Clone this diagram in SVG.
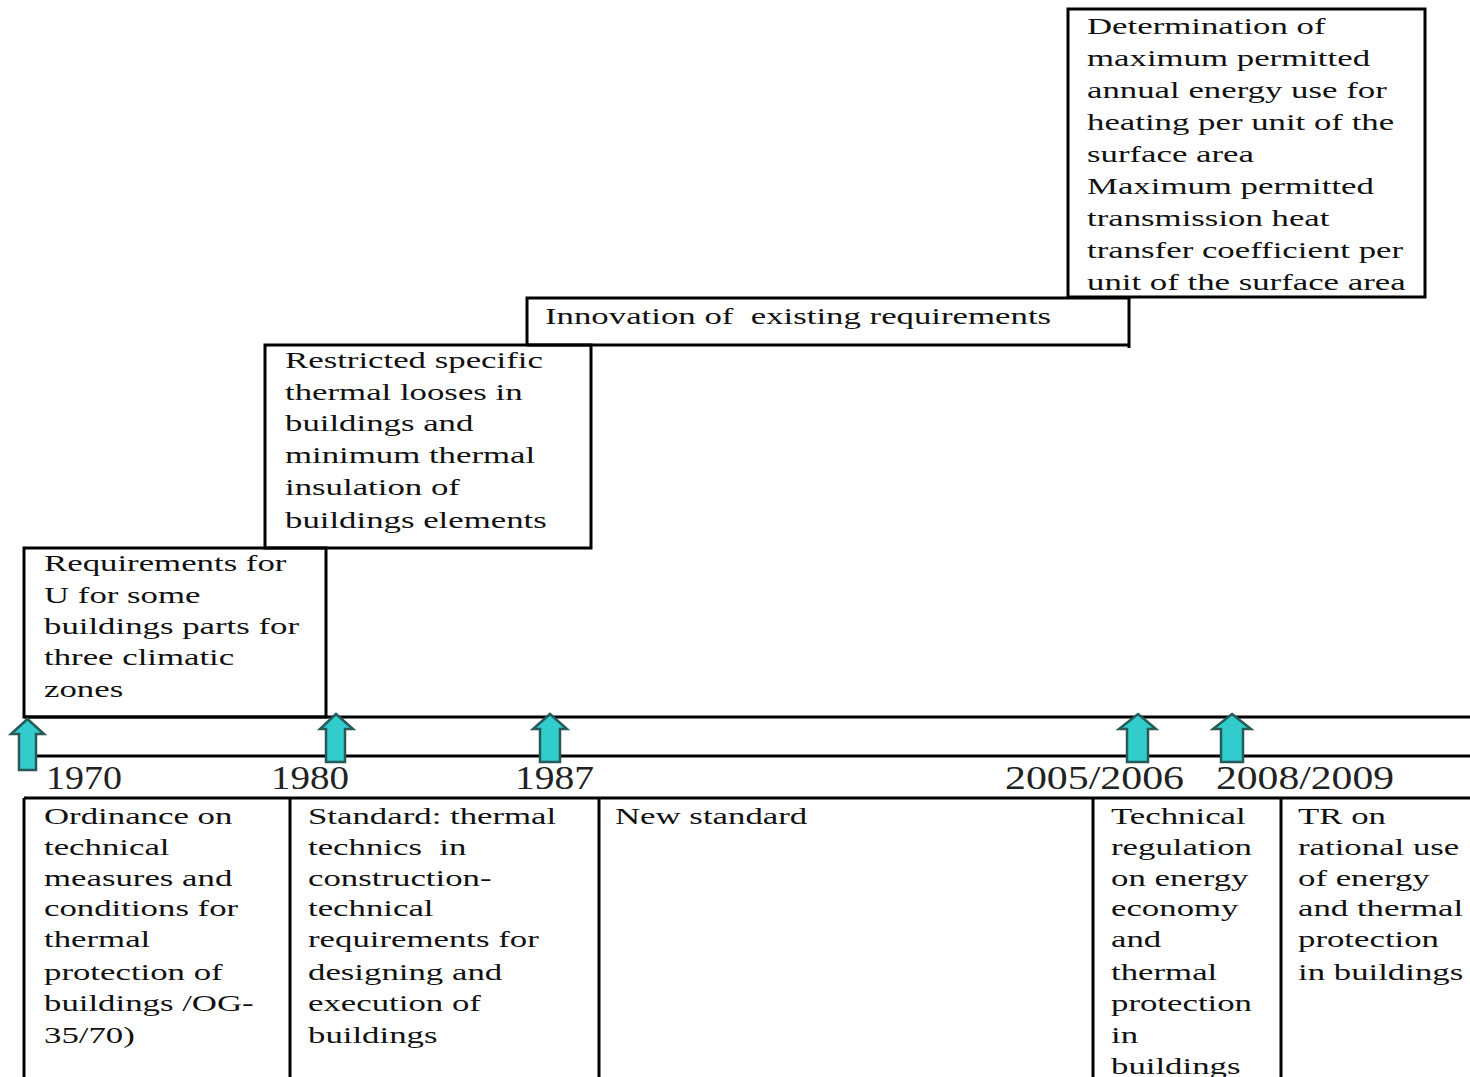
<svg xmlns="http://www.w3.org/2000/svg" width="1470" height="1077" viewBox="0 0 1470 1077">
<style>
.box{fill:none;stroke:#000;stroke-width:3}
.ln{stroke:#000;stroke-width:3;fill:none}
.t{font-family:"Liberation Serif","Times New Roman",serif;font-size:24px;fill:#111;white-space:pre}
.yr{font-family:"Liberation Serif","Times New Roman",serif;font-size:34px;fill:#222}
.arr{fill:#33cccc;stroke:#285a5a;stroke-width:2.5;stroke-linejoin:miter}
</style>
<defs>
<clipPath id="cDet"><rect x="1068" y="9" width="357" height="288"/></clipPath>
</defs>
<rect width="1470" height="1077" fill="#fff"/>

<g id="node-determination">
<rect class="box" x="1068" y="9" width="357" height="288"/>
<g clip-path="url(#cDet)">
<text class="t" transform="translate(1087,0) scale(1.45,1)">
<tspan x="0" y="34">Determination of</tspan>
<tspan x="0" y="66">maximum permitted</tspan>
<tspan x="0" y="98">annual energy use for</tspan>
<tspan x="0" y="130">heating per unit of the</tspan>
<tspan x="0" y="162">surface area</tspan>
<tspan x="0" y="194">Maximum permitted</tspan>
<tspan x="0" y="226">transmission heat</tspan>
<tspan x="0" y="258">transfer coefficient per</tspan>
<tspan x="0" y="290">unit of the surface area</tspan>
</text>
</g>
</g>

<g id="node-innovation">
<polyline class="ln" points="527,345 527,298 1129,298 1129,348"/>
<line class="ln" x1="527" y1="345" x2="1129" y2="345"/>
<text class="t" transform="translate(545,0) scale(1.45,1)"><tspan x="0" y="324">Innovation of  existing requirements</tspan></text>
</g>

<g id="node-restricted">
<rect class="box" x="265" y="345" width="326" height="203"/>
<text class="t" transform="translate(285,0) scale(1.45,1)">
<tspan x="0" y="368">Restricted specific</tspan>
<tspan x="0" y="400">thermal looses in</tspan>
<tspan x="0" y="431">buildings and</tspan>
<tspan x="0" y="463">minimum thermal</tspan>
<tspan x="0" y="495">insulation of</tspan>
<tspan x="0" y="528">buildings elements</tspan>
</text>
</g>

<g id="node-requirements">
<rect class="box" x="24" y="548" width="302" height="169"/>
<text class="t" transform="translate(44,0) scale(1.45,1)">
<tspan x="0" y="571">Requirements for</tspan>
<tspan x="0" y="603">U for some</tspan>
<tspan x="0" y="634">buildings parts for</tspan>
<tspan x="0" y="665">three climatic</tspan>
<tspan x="0" y="697">zones</tspan>
</text>
</g>

<g id="timeline">
<line class="ln" x1="24" y1="717" x2="1470" y2="717"/>
<line class="ln" x1="37" y1="756" x2="1470" y2="756"/>
<text class="yr" x="46" y="789" textLength="76" lengthAdjust="spacingAndGlyphs">1970</text>
<text class="yr" x="271" y="789" textLength="78" lengthAdjust="spacingAndGlyphs">1980</text>
<text class="yr" x="515" y="789" textLength="79" lengthAdjust="spacingAndGlyphs">1987</text>
<text class="yr" x="1005" y="789" textLength="179" lengthAdjust="spacingAndGlyphs">2005/2006</text>
<text class="yr" x="1216" y="789" textLength="178" lengthAdjust="spacingAndGlyphs">2008/2009</text>
</g>

<g id="bottom-row">
<line class="ln" x1="24" y1="798" x2="1470" y2="798"/>
<line class="ln" x1="24" y1="798" x2="24" y2="1077"/>
<line class="ln" x1="290" y1="798" x2="290" y2="1077"/>
<line class="ln" x1="599" y1="798" x2="599" y2="1077"/>
<line class="ln" x1="1093" y1="798" x2="1093" y2="1077"/>
<line class="ln" x1="1281" y1="798" x2="1281" y2="1077"/>
</g>

<g id="node-ordinance">
<text class="t" transform="translate(44,0) scale(1.45,1)">
<tspan x="0" y="824">Ordinance on</tspan>
<tspan x="0" y="855">technical</tspan>
<tspan x="0" y="886">measures and</tspan>
<tspan x="0" y="916">conditions for</tspan>
<tspan x="0" y="947">thermal</tspan>
<tspan x="0" y="980">protection of</tspan>
<tspan x="0" y="1011">buildings /OG-</tspan>
<tspan x="0" y="1043">35/70)</tspan>
</text>
</g>

<g id="node-standard">
<text class="t" transform="translate(308,0) scale(1.45,1)">
<tspan x="0" y="824">Standard: thermal</tspan>
<tspan x="0" y="855">technics  in</tspan>
<tspan x="0" y="886">construction-</tspan>
<tspan x="0" y="916">technical</tspan>
<tspan x="0" y="947">requirements for</tspan>
<tspan x="0" y="980">designing and</tspan>
<tspan x="0" y="1011">execution of</tspan>
<tspan x="0" y="1043">buildings</tspan>
</text>
</g>

<g id="node-new-standard">
<text class="t" transform="translate(615,0) scale(1.45,1)"><tspan x="0" y="824">New standard</tspan></text>
</g>

<g id="node-technical-regulation">
<text class="t" transform="translate(1111,0) scale(1.45,1)">
<tspan x="0" y="824">Technical</tspan>
<tspan x="0" y="855">regulation</tspan>
<tspan x="0" y="886">on energy</tspan>
<tspan x="0" y="916">economy</tspan>
<tspan x="0" y="947">and</tspan>
<tspan x="0" y="980">thermal</tspan>
<tspan x="0" y="1011">protection</tspan>
<tspan x="0" y="1043">in</tspan>
<tspan x="0" y="1074">buildings</tspan>
</text>
</g>

<g id="node-tr">
<text class="t" transform="translate(1298,0) scale(1.45,1)">
<tspan x="0" y="824">TR on</tspan>
<tspan x="0" y="855">rational use</tspan>
<tspan x="0" y="886">of energy</tspan>
<tspan x="0" y="916">and thermal</tspan>
<tspan x="0" y="947">protection</tspan>
<tspan x="0" y="980">in buildings</tspan>
</text>
</g>

<g id="connectors">
<polygon class="arr" points="27.5,719 44,734 36,734 36,770 19,770 19,734 11,734"/>
<polygon class="arr" points="336,714 353,729 345,729 345,762 326,762 326,729 320,729"/>
<polygon class="arr" points="550,714 567,729 560,729 560,762 540,762 540,729 533,729"/>
<polygon class="arr" points="1138,714 1156,729 1148,729 1148,762 1127,762 1127,729 1119,729"/>
<polygon class="arr" points="1232,714 1251,729 1243,729 1243,762 1221,762 1221,729 1213,729"/>
</g>
</svg>
